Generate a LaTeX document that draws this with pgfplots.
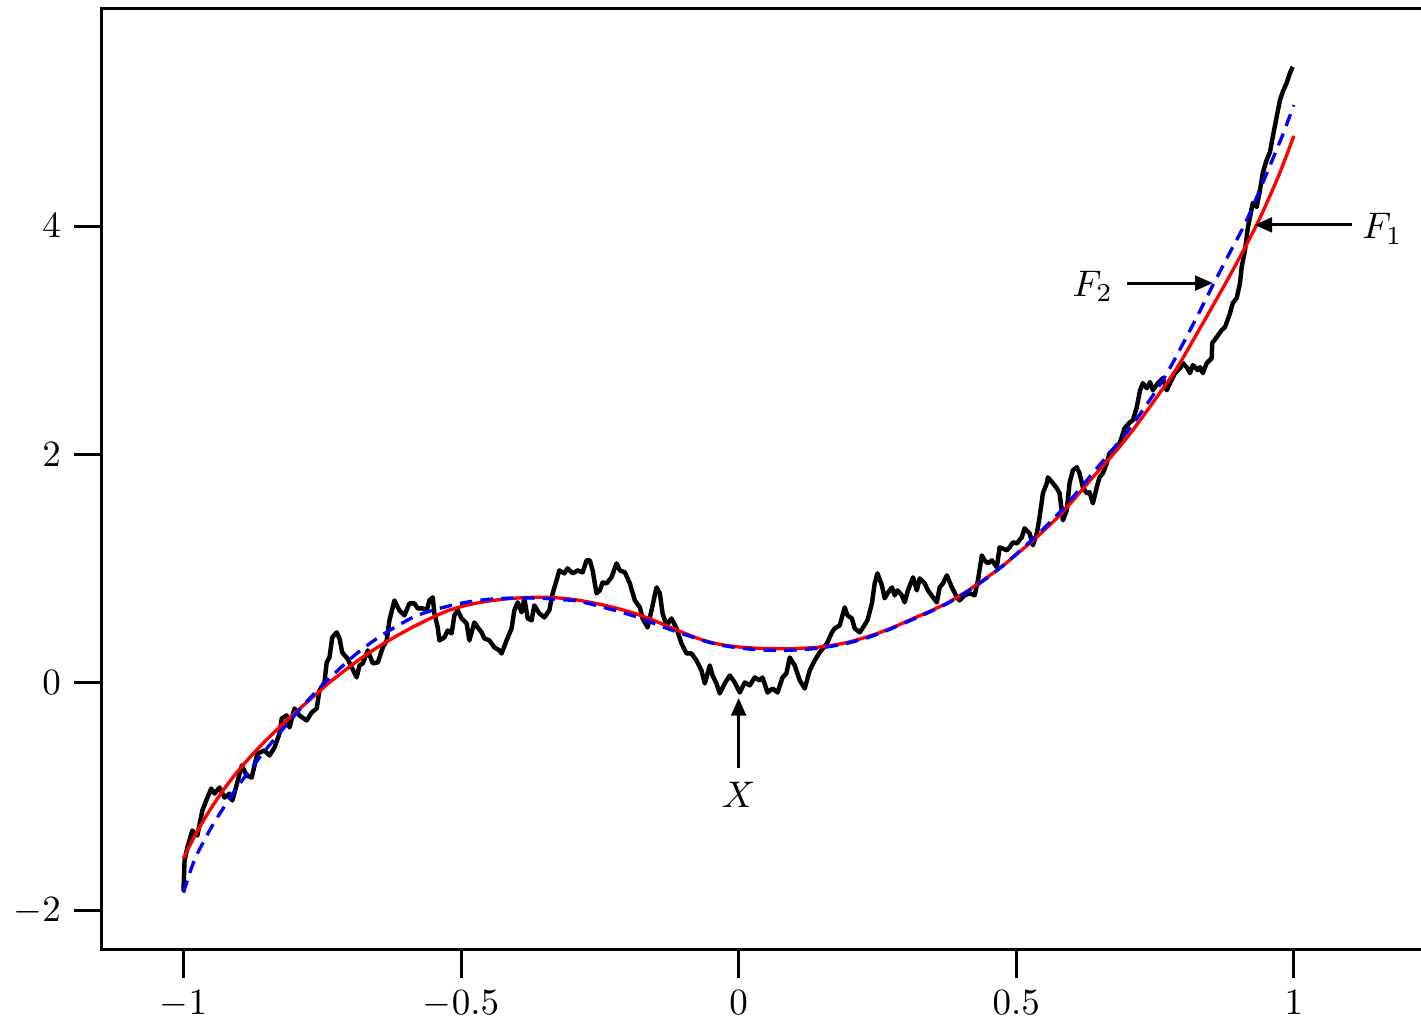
\documentclass[border=0pt]{standalone}
\usepackage{pgfplots}
\pgfplotsset{compat=1.18}
\usetikzlibrary{arrows.meta}
\begin{document}
\begin{tikzpicture}
\begin{axis}[name=ax, scale only axis, width=356.2pt, height=254.1pt,
 xmin=-1.147, xmax=1.229, ymin=-2.344, ymax=5.903,
 axis x line*=bottom, axis y line*=left,
 axis line style={-, line width=0.8pt, line cap=rect},
 tick pos=left, tick align=outside, major tick length=7.5pt,
 tick style={line width=0.8pt, black},
 xtick={-1,-0.5,0,0.5,1}, ytick={-2,0,2,4}, minor tick num=0,
 clip=false, tick label style={font=\normalsize}]
\addplot[black, line width=1.2pt, line join=round] table {
-1.000 -1.825
-0.998 -1.561
-0.993 -1.447
-0.984 -1.298
-0.975 -1.342
-0.966 -1.123
-0.959 -1.035
-0.950 -0.930
-0.944 -0.974
-0.935 -0.921
-0.926 -1.009
-0.917 -0.974
-0.912 -1.035
-0.903 -0.877
-0.895 -0.728
-0.886 -0.816
-0.877 -0.833
-0.867 -0.623
-0.854 -0.596
-0.845 -0.640
-0.836 -0.570
-0.827 -0.447
-0.823 -0.316
-0.814 -0.289
-0.809 -0.395
-0.800 -0.228
-0.791 -0.289
-0.778 -0.333
-0.769 -0.263
-0.760 -0.228
-0.755 -0.070
-0.746 0.000
-0.742 0.175
-0.737 0.219
-0.732 0.395
-0.724 0.439
-0.719 0.386
-0.714 0.263
-0.705 0.211
-0.697 0.132
-0.688 0.044
-0.683 0.149
-0.677 0.167
-0.668 0.281
-0.659 0.167
-0.650 0.175
-0.641 0.307
-0.634 0.368
-0.629 0.544
-0.620 0.719
-0.611 0.632
-0.602 0.588
-0.593 0.693
-0.584 0.693
-0.578 0.649
-0.569 0.649
-0.562 0.632
-0.557 0.719
-0.551 0.746
-0.548 0.605
-0.542 0.482
-0.539 0.368
-0.530 0.395
-0.524 0.456
-0.517 0.430
-0.512 0.588
-0.506 0.632
-0.499 0.561
-0.490 0.518
-0.485 0.368
-0.476 0.526
-0.470 0.482
-0.463 0.439
-0.458 0.386
-0.449 0.368
-0.440 0.307
-0.431 0.281
-0.427 0.254
-0.418 0.368
-0.409 0.474
-0.404 0.632
-0.398 0.702
-0.391 0.614
-0.386 0.737
-0.380 0.561
-0.373 0.544
-0.368 0.675
-0.359 0.605
-0.350 0.570
-0.341 0.632
-0.335 0.781
-0.328 0.895
-0.323 0.982
-0.314 0.956
-0.308 1.000
-0.299 0.956
-0.290 0.982
-0.281 0.965
-0.274 1.070
-0.268 1.070
-0.263 0.982
-0.256 0.781
-0.250 0.807
-0.245 0.877
-0.238 0.868
-0.229 0.921
-0.220 1.044
-0.214 0.982
-0.205 0.965
-0.196 0.868
-0.187 0.719
-0.178 0.658
-0.173 0.561
-0.164 0.482
-0.157 0.632
-0.148 0.833
-0.142 0.781
-0.137 0.605
-0.130 0.500
-0.121 0.561
-0.112 0.474
-0.103 0.342
-0.094 0.254
-0.085 0.254
-0.076 0.193
-0.067 0.105
-0.061 -0.009
-0.052 0.149
-0.047 0.061
-0.040 -0.009
-0.034 -0.096
-0.025 -0.009
-0.016 0.061
-0.007 0.000
0.002 -0.088
0.011 0.000
0.020 -0.026
0.029 0.044
0.038 0.018
0.043 0.044
0.052 -0.088
0.061 -0.053
0.070 -0.088
0.079 0.044
0.086 0.079
0.092 0.219
0.101 0.149
0.110 0.018
0.119 -0.053
0.128 0.105
0.137 0.193
0.146 0.263
0.159 0.342
0.168 0.439
0.173 0.474
0.182 0.500
0.191 0.658
0.196 0.588
0.204 0.561
0.209 0.474
0.218 0.439
0.223 0.474
0.232 0.544
0.240 0.693
0.245 0.868
0.250 0.956
0.258 0.851
0.263 0.737
0.268 0.781
0.276 0.833
0.281 0.763
0.286 0.807
0.294 0.763
0.299 0.702
0.305 0.807
0.314 0.921
0.321 0.807
0.326 0.912
0.335 0.868
0.341 0.807
0.350 0.746
0.357 0.702
0.362 0.833
0.368 0.868
0.375 0.939
0.384 0.833
0.393 0.746
0.398 0.719
0.407 0.763
0.416 0.781
0.425 0.763
0.431 0.895
0.438 1.114
0.443 1.070
0.449 1.044
0.456 1.070
0.465 1.009
0.470 1.184
0.483 1.158
0.488 1.184
0.494 1.228
0.501 1.219
0.510 1.272
0.515 1.351
0.524 1.307
0.530 1.202
0.537 1.307
0.542 1.447
0.548 1.658
0.555 1.746
0.557 1.798
0.566 1.746
0.573 1.702
0.578 1.658
0.584 1.421
0.591 1.509
0.596 1.746
0.602 1.860
0.609 1.886
0.614 1.833
0.620 1.711
0.627 1.658
0.632 1.667
0.638 1.570
0.645 1.711
0.650 1.798
0.656 1.833
0.663 1.921
0.668 2.009
0.674 2.035
0.683 2.061
0.690 2.149
0.695 2.228
0.705 2.281
0.710 2.298
0.717 2.412
0.723 2.561
0.728 2.623
0.735 2.579
0.741 2.632
0.746 2.561
0.755 2.623
0.764 2.667
0.771 2.561
0.777 2.623
0.786 2.711
0.795 2.754
0.800 2.798
0.807 2.763
0.813 2.711
0.818 2.781
0.827 2.737
0.831 2.763
0.836 2.711
0.843 2.798
0.852 2.842
0.853 2.974
0.861 3.026
0.870 3.088
0.876 3.114
0.885 3.237
0.890 3.325
0.897 3.368
0.903 3.500
0.906 3.640
0.912 3.789
0.917 3.982
0.921 4.079
0.926 4.202
0.933 4.167
0.939 4.316
0.944 4.465
0.951 4.579
0.957 4.649
0.962 4.781
0.969 4.956
0.975 5.105
0.980 5.175
0.987 5.254
0.993 5.342
0.998 5.395
};
\addplot[red, line width=0.9pt, smooth] table {
-1.000 -1.540
-0.980 -1.347
-0.960 -1.178
-0.940 -1.026
-0.920 -0.889
-0.900 -0.766
-0.880 -0.654
-0.860 -0.550
-0.840 -0.453
-0.820 -0.360
-0.800 -0.270
-0.768 -0.133
-0.737 0.000
-0.706 0.118
-0.677 0.222
-0.647 0.318
-0.617 0.405
-0.587 0.485
-0.556 0.560
-0.526 0.625
-0.497 0.668
-0.467 0.700
-0.437 0.722
-0.407 0.737
-0.376 0.745
-0.346 0.746
-0.316 0.737
-0.286 0.719
-0.245 0.680
-0.214 0.643
-0.184 0.600
-0.154 0.545
-0.124 0.485
-0.094 0.425
-0.065 0.372
-0.035 0.335
-0.004 0.313
0.026 0.302
0.056 0.297
0.092 0.296
0.133 0.305
0.164 0.322
0.195 0.350
0.225 0.390
0.254 0.437
0.284 0.495
0.314 0.560
0.345 0.625
0.375 0.695
0.405 0.780
0.434 0.875
0.470 1.000
0.500 1.120
0.536 1.270
0.573 1.440
0.603 1.600
0.632 1.765
0.662 1.930
0.692 2.100
0.722 2.290
0.753 2.500
0.775 2.650
0.795 2.800
0.834 3.130
0.872 3.455
0.903 3.730
0.933 4.010
0.951 4.200
0.975 4.470
1.000 4.790
};
\addplot[blue, line width=0.9pt, dash pattern=on 3.4pt off 2.2pt, smooth] table {
-1.000 -1.842
-0.988 -1.660
-0.977 -1.520
-0.962 -1.380
-0.948 -1.255
-0.920 -1.040
-0.890 -0.830
-0.860 -0.640
-0.830 -0.460
-0.800 -0.290
-0.768 -0.115
-0.732 0.060
-0.695 0.225
-0.659 0.360
-0.629 0.455
-0.587 0.570
-0.556 0.625
-0.526 0.665
-0.497 0.697
-0.467 0.720
-0.437 0.733
-0.407 0.740
-0.376 0.740
-0.346 0.735
-0.316 0.725
-0.286 0.710
-0.245 0.660
-0.214 0.620
-0.184 0.575
-0.154 0.520
-0.124 0.465
-0.094 0.415
-0.065 0.368
-0.035 0.330
-0.004 0.305
0.026 0.290
0.056 0.282
0.092 0.282
0.133 0.295
0.164 0.315
0.195 0.343
0.225 0.382
0.254 0.430
0.284 0.490
0.314 0.553
0.345 0.620
0.375 0.690
0.405 0.775
0.434 0.868
0.470 1.000
0.500 1.125
0.536 1.285
0.573 1.465
0.603 1.630
0.632 1.800
0.662 1.975
0.692 2.150
0.722 2.345
0.753 2.565
0.775 2.740
0.795 2.920
0.825 3.200
0.854 3.480
0.885 3.770
0.915 4.050
0.951 4.460
0.980 4.800
1.000 5.060
};
\draw[line width=0.8pt, line cap=rect] (rel axis cs:0,1) -- (rel axis cs:1,1);
\draw[line width=0.8pt, -{Triangle[length=4.8pt,width=4pt]}] (axis cs:0,-0.75) -- (axis cs:0,-0.136);
\node at (axis cs:0,-0.986) {$X$};
\draw[line width=0.8pt, -{Triangle[length=4.8pt,width=4pt]}] (axis cs:1.104,4.01) -- (axis cs:0.929,4.01);
\node[anchor=west, inner sep=0pt] at (axis cs:1.122,3.975) {$F_1$};
\draw[line width=0.8pt, -{Triangle[length=4.8pt,width=4pt]}] (axis cs:0.699,3.50) -- (axis cs:0.854,3.50);
\node at (axis cs:0.638,3.47) {$F_2$};
\end{axis}
\pgfresetboundingbox
\useasboundingbox ([xshift=-27.5pt,yshift=-18.9pt]ax.south west) rectangle ([yshift=2.4pt]ax.north east);
\end{tikzpicture}
\end{document}
